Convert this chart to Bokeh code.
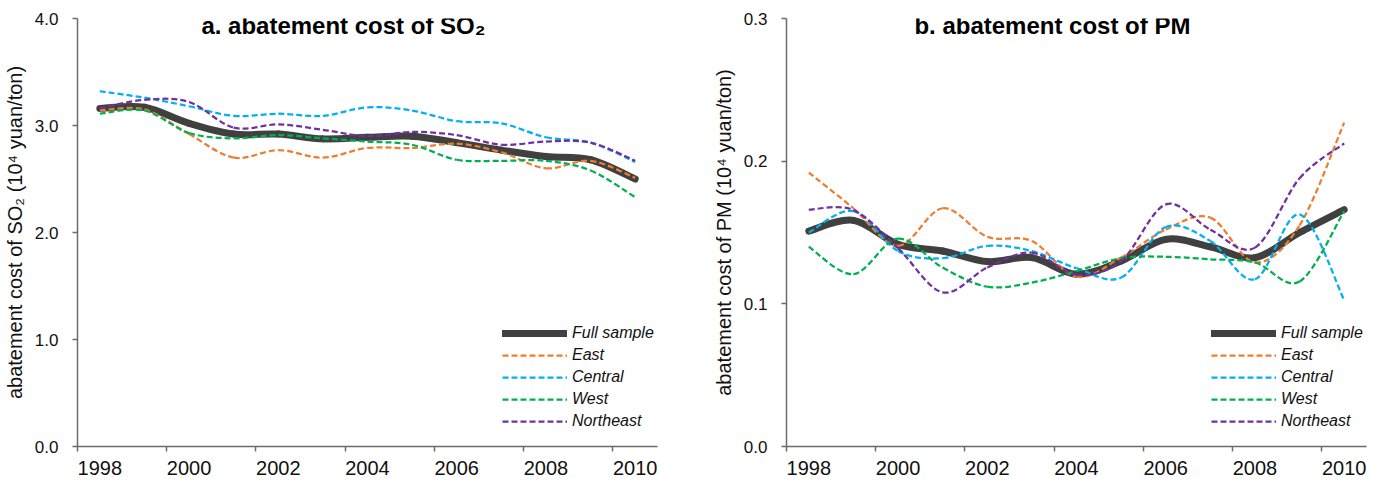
from bokeh.plotting import figure
from bokeh.layouts import row
from bokeh.models import Range1d, FixedTicker, PrintfTickFormatter, Legend, LegendItem, Label, ColumnDataSource
from bokeh.embed import file_html
from bokeh.resources import INLINE

years = list(range(1998, 2011))
tick_years = [1998, 2000, 2002, 2004, 2006, 2008, 2010]
series_names = ["Full sample", "East", "Central", "West", "Northeast"]

so2_full = [3.16, 3.17, 3.02, 2.92, 2.92, 2.875, 2.89, 2.90, 2.84, 2.77, 2.71, 2.68, 2.50]
so2_east = [3.14, 3.15, 2.92, 2.70, 2.77, 2.70, 2.79, 2.79, 2.83, 2.75, 2.60, 2.67, 2.51]
so2_central = [3.32, 3.26, 3.18, 3.09, 3.11, 3.09, 3.17, 3.14, 3.04, 3.02, 2.89, 2.84, 2.66]
so2_west = [3.11, 3.14, 2.93, 2.88, 2.91, 2.88, 2.85, 2.82, 2.68, 2.67, 2.67, 2.58, 2.33]
so2_northeast = [3.16, 3.24, 3.22, 2.98, 3.01, 2.96, 2.90, 2.94, 2.91, 2.82, 2.85, 2.84, 2.67]

pm_full = [0.151, 0.1585, 0.1417, 0.137, 0.1296, 0.1324, 0.1208, 0.130, 0.1452, 0.140, 0.1324, 0.150, 0.166]
pm_east = [0.192, 0.167, 0.1406, 0.167, 0.147, 0.144, 0.119, 0.1324, 0.152, 0.1604, 0.129, 0.155, 0.227]
pm_central = [0.150, 0.165, 0.137, 0.132, 0.1406, 0.137, 0.125, 0.1184, 0.1538, 0.144, 0.1172, 0.1627, 0.1026]
pm_west = [0.140, 0.1208, 0.1457, 0.1254, 0.112, 0.1149, 0.123, 0.132, 0.133, 0.1312, 0.129, 0.1156, 0.165]
pm_northeast = [0.166, 0.1657, 0.139, 0.108, 0.1254, 0.1359, 0.1203, 0.130, 0.1697, 0.152, 0.1394, 0.188, 0.2124]

colors = ["#404040", "#ED7D31", "#00B0F0", "#00B050", "#7030A0"]

AXIS_COLOR = "#6b6b6b"
TEXT_COLOR = "#111111"
NARROW = "'Liberation Sans Narrow', 'Arial Narrow', 'Liberation Sans', sans-serif"
SANS = "'Liberation Sans', Arial, sans-serif"


def smooth_source(xs, ys):
    # Bezier control points (Excel-like smoothing) computed from the data points
    n = len(xs)
    d = dict(x0=[], y0=[], x1=[], y1=[], cx0=[], cy0=[], cx1=[], cy1=[])
    for i in range(n - 1):
        a = max(i - 1, 0)
        b = min(i + 2, n - 1)
        d["x0"].append(xs[i]); d["y0"].append(ys[i])
        d["x1"].append(xs[i + 1]); d["y1"].append(ys[i + 1])
        d["cx0"].append(xs[i] + (xs[i + 1] - xs[a]) / 6.0)
        d["cy0"].append(ys[i] + (ys[i + 1] - ys[a]) / 6.0)
        d["cx1"].append(xs[i + 1] - (xs[b] - xs[i]) / 6.0)
        d["cy1"].append(ys[i + 1] - (ys[b] - ys[i]) / 6.0)
    return ColumnDataSource(d)


def make_panel(series, ymax, ystep, title, ylabel, title_y, left_border, right_border):
    p = figure(frame_width=580, frame_height=428,
               x_range=Range1d(1997.5, 2010.5), y_range=Range1d(0, ymax),
               output_backend="svg", toolbar_location=None,
               min_border_left=left_border, min_border_right=right_border,
               min_border_top=18, min_border_bottom=36,
               background_fill_color="white", border_fill_color="white")
    p.outline_line_color = None
    p.grid.visible = False

    xa = p.xaxis[0]
    xa.ticker = FixedTicker(ticks=tick_years, minor_ticks=[t - 0.5 for t in tick_years])
    xa.major_tick_line_color = None
    xa.minor_tick_line_color = AXIS_COLOR
    xa.minor_tick_line_width = 1.5
    xa.minor_tick_in = 0
    xa.minor_tick_out = 5
    xa.axis_line_color = AXIS_COLOR
    xa.axis_line_width = 1.5
    xa.major_label_text_font = NARROW
    xa.major_label_text_font_size = "20px"
    xa.major_label_text_color = TEXT_COLOR
    xa.major_label_standoff = 8

    ya = p.yaxis[0]
    nt = int(round(ymax / ystep))
    ya.ticker = FixedTicker(ticks=[round(i * ystep, 3) for i in range(nt + 1)], minor_ticks=[])
    ya.formatter = PrintfTickFormatter(format="%.1f")
    ya.major_tick_in = 0
    ya.major_tick_out = 5
    ya.major_tick_line_color = AXIS_COLOR
    ya.major_tick_line_width = 1.5
    ya.minor_tick_line_color = None
    ya.axis_line_color = AXIS_COLOR
    ya.axis_line_width = 1.5
    ya.major_label_text_font = NARROW
    ya.major_label_text_font_size = "17px"
    ya.major_label_text_color = TEXT_COLOR
    ya.major_label_standoff = 14
    ya.axis_label = ylabel
    ya.axis_label_text_font = SANS
    ya.axis_label_text_font_style = "normal"
    ya.axis_label_text_font_size = "20px"
    ya.axis_label_text_color = TEXT_COLOR
    ya.axis_label_standoff = 6

    items = []
    for name, ys, c in zip(series_names, series, colors):
        src = smooth_source(years, ys)
        if name == "Full sample":
            r = p.bezier(x0="x0", y0="y0", x1="x1", y1="y1", cx0="cx0", cy0="cy0",
                         cx1="cx1", cy1="cy1", source=src, line_color=c, line_width=7,
                         line_cap="round")
        else:
            r = p.bezier(x0="x0", y0="y0", x1="x1", y1="y1", cx0="cx0", cy0="cy0",
                         cx1="cx1", cy1="cy1", source=src, line_color=c, line_width=2.25,
                         line_dash="6 3")
        items.append(LegendItem(label=name, renderers=[r]))

    legend = Legend(items=items, location=(425, 15), glyph_width=65, glyph_height=20,
                    label_height=20, spacing=2, padding=0, margin=0,
                    border_line_color=None, background_fill_alpha=0,
                    label_text_font=SANS, label_text_font_style="italic",
                    label_text_font_size="16px", label_text_color=TEXT_COLOR,
                    label_standoff=5)
    p.add_layout(legend)

    p.add_layout(Label(x=2003.46, y=title_y, text=title, text_align="center",
                       text_baseline="middle", text_font=NARROW, text_font_style="bold",
                       text_font_size="24px", text_color="#000000"))
    return p


p1 = make_panel([so2_full, so2_east, so2_central, so2_west, so2_northeast], 4.0, 1.0,
                "a. abatement cost of SO\u2082", "abatement cost of SO\u2082 (10\u2074 yuan/ton)",
                3.93, 77, 44)
p2 = make_panel([pm_full, pm_east, pm_central, pm_west, pm_northeast], 0.3, 0.1,
                "b. abatement cost of PM", "abatement cost of PM (10\u2074 yuan/ton)",
                0.295, 85, 18)

layout = row(p1, p2)
open("out.html", "w").write(file_html(layout, INLINE))
